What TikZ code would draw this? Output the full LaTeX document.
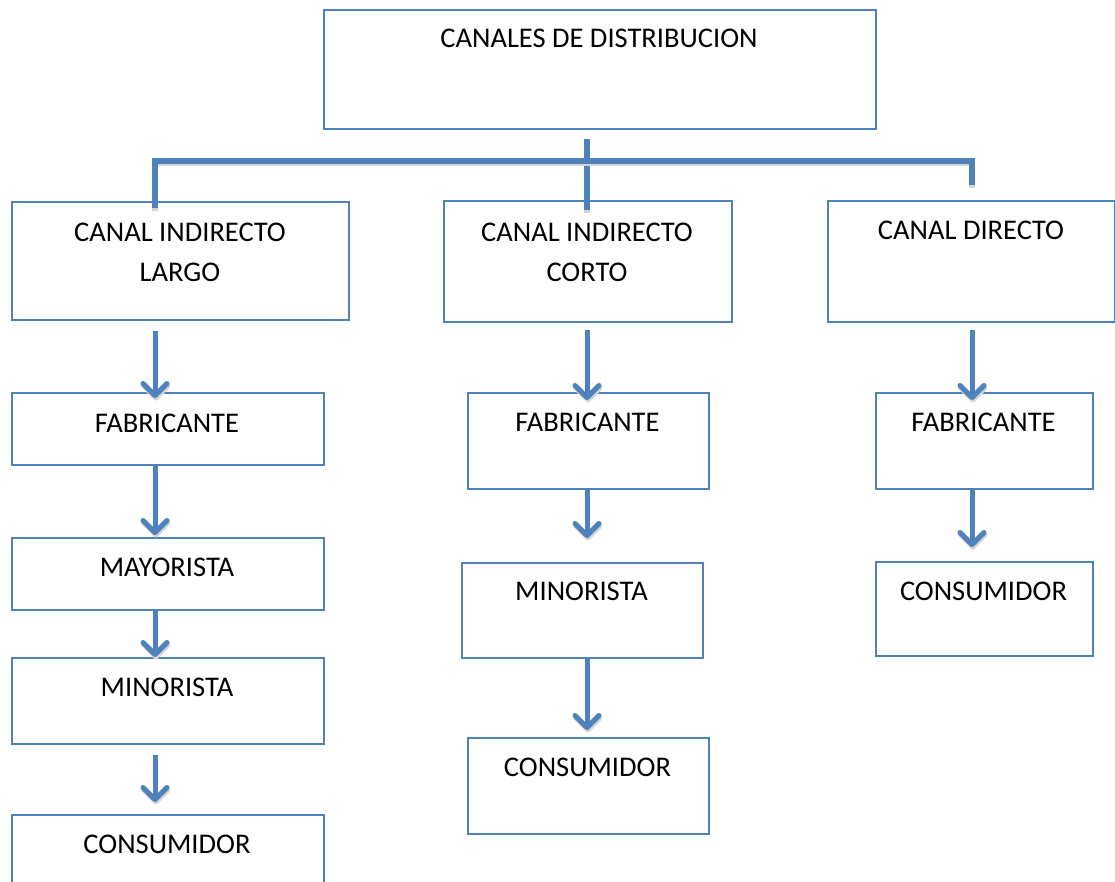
\documentclass[tikz,border=0pt]{standalone}
\usepackage{fontspec}
\setmainfont{Carlito}
\usetikzlibrary{arrows.meta,calc}
\definecolor{ofblue}{HTML}{4F81BD}
\definecolor{shade}{HTML}{D4D4D4}
\begin{document}
\begin{tikzpicture}[x=1pt,y=-1pt,
  box/.style={draw=ofblue, line width=1.9pt, fill=white, rectangle, inner sep=0pt, anchor=north west},
  lbl/.style={font=\fontsize{28.5}{40}\selectfont, anchor=base, inner sep=0pt, align=center},
  conn/.style={draw=ofblue, line width=5.5pt,
    preaction={draw=shade, line width=5.5pt, transform canvas={yshift=-2.5pt}}},
  arr/.style={draw=ofblue, line width=5pt, -{Straight Barb[length=12pt,width=24pt,round]},
    preaction={draw=shade, line width=5pt, transform canvas={xshift=0.8pt,yshift=-2.5pt}}}]
\clip (0,0) rectangle (1115,881);
\fill[white] (0,0) rectangle (1115,881);
% boxes
\node[box, minimum width=552pt, minimum height=119pt] (top) at (323,9) {};
\node[box, minimum width=337pt, minimum height=118pt] (L0) at (11,201) {};
\node[box, minimum width=312pt, minimum height=72pt]  (L1) at (11,392) {};
\node[box, minimum width=312pt, minimum height=72pt]  (L2) at (11,537) {};
\node[box, minimum width=312pt, minimum height=86pt]  (L3) at (11,657) {};
\node[box, minimum width=312pt, minimum height=90pt]  (L4) at (11,814) {};
\node[box, minimum width=288pt, minimum height=121pt] (M0) at (443,200) {};
\node[box, minimum width=241pt, minimum height=96pt]  (M1) at (467,392) {};
\node[box, minimum width=241pt, minimum height=95pt]  (M2) at (461,562) {};
\node[box, minimum width=241pt, minimum height=96pt]  (M3) at (467,737) {};
\node[box, minimum width=287pt, minimum height=121pt] (R0) at (827,200) {};
\node[box, minimum width=217pt, minimum height=96pt]  (R1) at (875,392) {};
\node[box, minimum width=217pt, minimum height=94pt]  (R2) at (875,561) {};
% labels
\node[lbl] (ttop) at (599,47) {CANALES DE DISTRIBUCION};
\node[lbl] (tL0) at (180,281) {CANAL INDIRECTO\\LARGO};
\node[lbl] (tL1) at (167,432) {FABRICANTE};
\node[lbl] (tL2) at (167,576) {MAYORISTA};
\node[lbl] (tL3) at (167,696) {MINORISTA};
\node[lbl] (tL4) at (167,853) {CONSUMIDOR};
\node[lbl] (tM0) at (587,281) {CANAL INDIRECTO\\CORTO};
\node[lbl] (tM1) at (587.5,431) {FABRICANTE};
\node[lbl] (tM2) at (581.5,600) {MINORISTA};
\node[lbl] (tM3) at (587.5,776) {CONSUMIDOR};
\node[lbl] (tR0) at (971,239) {CANAL DIRECTO};
\node[lbl] (tR1) at (983.5,431) {FABRICANTE};
\node[lbl] (tR2) at (983.5,600) {CONSUMIDOR};
% connector columns
\coordinate (colL) at (155,0);
\coordinate (colM) at (587,0);
\coordinate (colR) at (972,0);
\coordinate (bL) at (155,161);
\coordinate (bR) at (972,161);
% tree bar
\draw[conn] ($(top.south -| colM)+(0,9)$) -- ($(M0.north -| colM)+(0,10)$);
\draw[conn, line join=miter] ($(L0.north -| colL)+(0,7)$) -- (bL) -- (bR) -- ($(R0.north -| colR)+(0,-15)$);
% arrows
\draw[arr] ($(L0.south -| colL)+(0,10)$) -- ($(L1.north -| colL)+(0,6)$);
\draw[arr] (L1.south -| colL) -- ($(L2.north -| colL)+(0,-2)$);
\draw[arr] (L2.south -| colL) -- (L3.north -| colL);
\draw[arr] ($(L3.south -| colL)+(0,10)$) -- ($(L4.north -| colL)+(0,-12)$);
\draw[arr] ($(M0.south -| colM)+(0,7)$) -- ($(M1.north -| colM)+(0,8)$);
\draw[arr] (M1.south -| colM) -- ($(M2.north -| colM)+(0,-24)$);
\draw[arr] (M2.south -| colM) -- ($(M3.north -| colM)+(0,-7)$);
\draw[arr] ($(R0.south -| colR)+(0,7)$) -- ($(R1.north -| colR)+(0,8)$);
\draw[arr] (R1.south -| colR) -- ($(R2.north -| colR)+(0,-14)$);
\end{tikzpicture}
\end{document}
